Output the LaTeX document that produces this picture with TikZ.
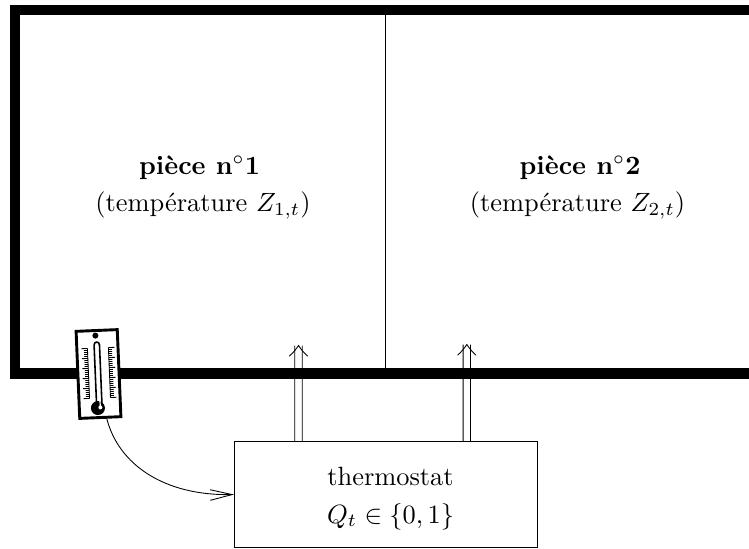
\documentclass[tikz,border=0pt]{standalone}
\usetikzlibrary{arrows.meta}
\tikzset{
  wall/.style={line width=3.8pt,line join=miter,line cap=butt},
  thin line/.style={line width=0.33pt},
  label/.style={anchor=base,inner sep=0pt,outer sep=0pt},
  ctrlbox/.style={draw,line width=0.33pt,fill=white,inner sep=0pt,outer sep=0pt,minimum width=114.8pt,minimum height=40pt},
  thermobox/.style={draw,line width=1.1pt,fill=white,inner sep=0pt,outer sep=0pt,minimum width=15.6pt,minimum height=33pt,rotate=2.4},
  feedback/.style={line width=0.33pt,-{Straight Barb[length=8.3pt,width=4pt,line width=0.33pt]}},
  tick mark/.style={line width=0.32pt}
}
\newcommand{\heatarrow}[1]{%
  \draw[thin line] (ctrl.north -| #1) ++(-3.7,0) -- ([xshift=-1.4pt]#1);
  \draw[thin line] (ctrl.north -| #1) ++(3.7,0) -- ([xshift=1.4pt]#1);
  \draw[thin line,line cap=round] ([shift={(-9,10.5)}]#1) .. controls ([shift={(-5,7)}]#1) and ([shift={(-2,3)}]#1) .. (#1)
    .. controls ([shift={(2,3)}]#1) and ([shift={(5,7)}]#1) .. ([shift={(9,10.5)}]#1);}
\begin{document}
\begin{tikzpicture}[x=0.3788pt,y=-0.3788pt]
\useasboundingbox (0,0) rectangle (749,548);
\fill[white] (0,0) rectangle (749,548);
% walls
\coordinate (wallTR) at (749,10);
\coordinate (wallTL) at (15,10);
\coordinate (wallBL) at (15,373.5);
\coordinate (wallBR) at (749,373.5);
\coordinate (divT) at (385,10);
\coordinate (divB) at (385,373.5);
\draw[thin line] (divT) -- (divB);
\draw[wall] (wallTR) -- (wallTL) -- (wallBL) -- (wallBR);
% controller
\node[ctrlbox] (ctrl) at (385.5,494.5) {};
\coordinate (tipA) at (298.5,345.5);
\coordinate (tipB) at (466.8,344.5);
\heatarrow{tipA}
\heatarrow{tipB}
% labels
\node[label] (r1a) at (199.5,174) {\textbf{pièce n$^\circ$1}};
\node[label] (r1b) at (203,211.5) {(température $Z_{1,t}$)};
\node[label] (r2a) at (580,174) {\textbf{pièce n$^\circ$2}};
\node[label] (r2b) at (577.5,211.5) {(température $Z_{2,t}$)};
\node[label] (c1) at (390.5,485) {thermostat};
\node[label] (c2) at (390.5,523) {$Q_t\in\{0,1\}$};
% thermometer
\node[thermobox] (thermo) at (98.5,374) {};
\begin{scope}[shift={(98.5,374)},rotate=2.4]
  \fill (-1.5,-38.5) circle[radius=3];
  \draw[line width=0.6pt,fill=white] (-3.2,-29) .. controls (-3.2,-33) and (2.2,-33) .. (2.2,-29) -- (2.2,29) -- (-3.2,29) -- cycle;
  \fill (-2,34) circle[radius=7];
  \fill[white] (0.5,33.5) circle[radius=2];
  \fill[white] (-0.2,24) rectangle (1,32);
  \draw[tick mark] (-10,-26) -- (-10,24);
  \draw[tick mark] (11,-26) -- (11,24);
  \foreach \k in {0,...,25}{
    \pgfmathsetmacro{\yy}{-26+2*\k}
    \pgfmathsetmacro{\ll}{ifthenelse(mod(\k,5)==0,6,3.5)}
    \draw[tick mark] (-10,\yy) -- ++(-\ll,0);
    \draw[tick mark] (11,\yy) -- ++(\ll,0);
  }
\end{scope}
% feedback
\draw[feedback] (thermo.-82) .. controls (118,465) and (165,496) .. (ctrl.west);
\end{tikzpicture}
\end{document}
